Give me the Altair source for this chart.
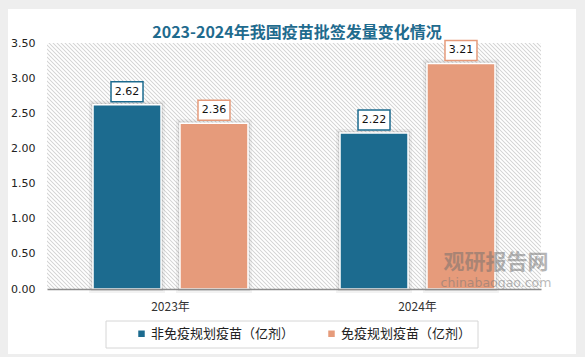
import altair as alt
import pandas as pd

# ---------------- data ----------------
years = ["2023年", "2024年"]
series_names = ["非免疫规划疫苗（亿剂）", "免疫规划疫苗（亿剂）"]
non_plan = [2.62, 2.22]
plan = [2.36, 3.21]
y_ticks = [0, 0.5, 1, 1.5, 2, 2.5, 3, 3.5]
colors = ["#1c6b8f", "#e69b7b"]
title_text = "2023-2024年我国疫苗批签发量变化情况"
wm_cn = "观研报告网"
wm_en = "chinabaogao.com"

rows = []
for i, yr in enumerate(years):
    rows.append({"year": yr, "series": series_names[0], "value": non_plan[i]})
    rows.append({"year": yr, "series": series_names[1], "value": plan[i]})
df = pd.DataFrame(rows)
one = pd.DataFrame({"k": [0]})

W, H = 494, 246

# diagonal hatch via a striped linear gradient
r = H / W
tmax = (1 + r) / (1 + r * r)
N = round((W + H) / 4)
stops = []
for k in range(N):
    stops.append(alt.GradientStop(offset=k / N, color="#d6d6d6"))
    stops.append(alt.GradientStop(offset=(k + 0.32) / N, color="#ffffff"))
    stops.append(alt.GradientStop(offset=(k + 0.68) / N, color="#ffffff"))
stops.append(alt.GradientStop(offset=1.0, color="#d6d6d6"))
hatch_fill = alt.LinearGradient(
    gradient="linear", stops=stops, x1=0, y1=1, x2=tmax, y2=1 - tmax * r
)

base_one = alt.Chart(one)

card = base_one.mark_rect(fill="white").encode(
    x=alt.value(-39), x2=alt.value(529), y=alt.value(-34), y2=alt.value(311)
)
hatch = base_one.mark_rect(fill=hatch_fill).encode(
    x=alt.value(0), x2=alt.value(W), y=alt.value(0), y2=alt.value(H)
)
legend_box = base_one.mark_rect(fill="white", stroke="#d6d6d6", strokeWidth=1).encode(
    x=alt.value(59), x2=alt.value(431), y=alt.value(278), y2=alt.value(305)
)
wm1 = base_one.mark_text(
    text=wm_cn, font="Noto Sans CJK SC", fontSize=21, fontWeight="bold",
    color="#6e6e6e", opacity=0.5
).encode(x=alt.value(449), y=alt.value(220))
wm2 = base_one.mark_text(
    text=wm_en, font="DejaVu Sans", fontSize=12.5, color="#777777", opacity=0.5
).encode(x=alt.value(449), y=alt.value(240))

base = alt.Chart(df)
x_enc = alt.X(
    "year:N", sort=years, title=None,
    scale=alt.Scale(paddingInner=0, paddingOuter=0),
    axis=alt.Axis(
        labelFont="Noto Sans CJK SC", labelFontSize=12, labelColor="#333333",
        domainColor="#8c8c8c", domainWidth=1.5, ticks=False, labelPadding=12,
        labelAngle=0, zindex=2,
    ),
)
xo_enc = alt.XOffset(
    "series:N", sort=series_names,
    scale=alt.Scale(paddingInner=0.218, paddingOuter=0.529),
)
y_enc = alt.Y(
    "value:Q", title=None,
    scale=alt.Scale(domain=[0, 3.5], nice=False),
    axis=alt.Axis(
        values=y_ticks, format=".2f", labelFont="DejaVu Sans", labelFontSize=11,
        labelColor="#222222", domain=False, ticks=False, grid=False, labelPadding=12,
        zindex=2,
    ),
)

shadow1 = base.mark_bar(fill="transparent", stroke="#000000", strokeOpacity=0.05, strokeWidth=8).encode(
    x=x_enc, xOffset=xo_enc, y=y_enc
)
shadow2 = base.mark_bar(fill="transparent", stroke="#000000", strokeOpacity=0.08, strokeWidth=4).encode(
    x=x_enc, xOffset=xo_enc, y=y_enc
)
bars = base.mark_bar(stroke="white", strokeWidth=1.5).encode(
    x=x_enc, xOffset=xo_enc, y=y_enc,
    color=alt.Color(
        "series:N", sort=series_names,
        scale=alt.Scale(domain=series_names, range=colors),
        legend=alt.Legend(
            orient="none", legendX=88, legendY=284, direction="horizontal",
            title=None, symbolType="square", symbolSize=42, symbolStrokeWidth=0,
            labelFont="Noto Sans CJK SC", labelFontSize=13, labelColor="#222222",
            columnPadding=30, labelOffset=3, padding=0, labelLimit=400, zindex=3,
        ),
    ),
)
boxes = base.mark_point(
    shape="M-1.6,-1H1.6V1H-1.6Z", size=400, filled=False, fill="white",
    fillOpacity=1, strokeWidth=1.5, opacity=1, yOffset=-13,
).encode(
    x=x_enc, xOffset=xo_enc, y=y_enc,
    stroke=alt.Stroke("series:N", scale=alt.Scale(domain=series_names, range=colors), legend=None),
)
labels = base.mark_text(
    font="DejaVu Sans", fontSize=11, color="#111111", yOffset=-13, baseline="middle"
).encode(
    x=x_enc, xOffset=xo_enc, y=y_enc, text=alt.Text("value:Q", format=".2f")
)

chart = alt.layer(
    card, hatch, legend_box, shadow1, shadow2, bars, boxes, labels, wm1, wm2
).properties(
    width=W, height=H,
    title=alt.TitleParams(
        title_text, font="Noto Sans CJK SC", fontSize=16, fontWeight="bold",
        color="#1f6b8e", anchor="middle", frame="group", offset=4, dy=36, dx=3,
    ),
    autosize=alt.AutoSizeParams(type="none"),
    padding={"left": 47, "top": 43, "right": 44, "bottom": 68},
    background="#eeeeee",
).configure_view(strokeWidth=0).resolve_scale(color="independent")

chart.save("out.html", embed_options={"renderer": "svg", "actions": False})
